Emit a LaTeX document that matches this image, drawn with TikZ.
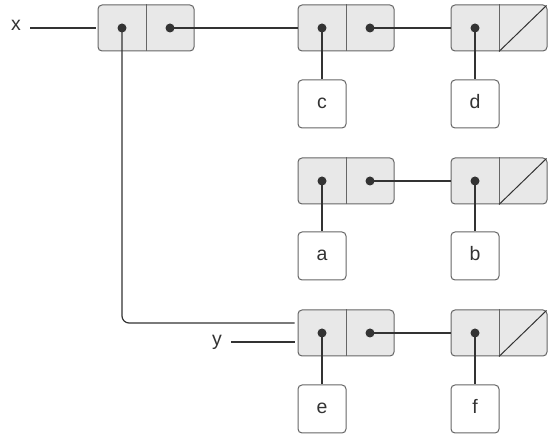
\documentclass[tikz,border=0pt]{standalone}
\usepackage{fontspec}
\setmainfont{Liberation Sans}
\usetikzlibrary{calc}
\definecolor{cellgray}{HTML}{E8E8E8}
\definecolor{boxline}{HTML}{666666}
\definecolor{ink}{HTML}{333333}
\begin{document}
\begin{tikzpicture}[x=1pt,y=-1pt,
  pairbox/.style={draw=boxline, fill=cellgray, rounded corners=4pt, minimum width=96pt, minimum height=46pt, inner sep=0pt, line width=1pt},
  atombox/.style={draw=boxline, fill=white, rounded corners=4pt, minimum width=48pt, minimum height=48pt, inner sep=0pt, line width=1pt, text=ink, font=\fontsize{19.5}{19.5}\selectfont, text height=10pt, text depth=0pt},
  ptr/.style={circle, fill=ink, minimum size=9pt, inner sep=0pt},
  link/.style={draw=ink, line width=1.2pt},
  lbl/.style={text=ink, font=\fontsize{19.5}{19.5}\selectfont, inner sep=0pt, anchor=base}]
\useasboundingbox (0,0) rectangle (558,438);
% pairs
\node[pairbox] (p1) at (146,28) {};
\node[pairbox] (p2) at (346,28) {};
\node[pairbox] (p3) at (499,28) {};
\node[pairbox] (q1) at (346,181) {};
\node[pairbox] (q2) at (499,181) {};
\node[pairbox] (r1) at (346,333) {};
\node[pairbox] (r2) at (499,333) {};
\foreach \p in {p1,p2,p3,q1,q2,r1,r2} {\draw[boxline, line width=1pt] (\p.north) -- (\p.south);}
\foreach \p in {p3,q2,r2} {\draw[ink, line width=1pt] (\p.south) -- ([xshift=-1pt,yshift=-1pt]\p.north east);}
% atoms
\node[atombox] (c) at (322,104) {c};
\node[atombox] (d) at (475,104) {d};
\node[atombox] (a) at (322,256) {a};
\node[atombox] (b) at (475,256) {b};
\node[atombox] (e) at (322,409) {e};
\node[atombox] (f) at (475,409) {f};
% labels
\node[lbl] (xl) at (16,31) {x};
\node[lbl] (yl) at (217,346) {y};
% dots
\foreach \p in {p1,p2,p3,q1,q2,r1,r2} {\node[ptr] (\p car) at ($(\p.center)+(-24,0)$) {};}
\foreach \p in {p1,p2,q1,r1} {\node[ptr] (\p cdr) at ($(\p.center)+(24,0)$) {};}
% connectors
\draw[link] ([xshift=9pt]xl.east |- p1.west) -- ([xshift=-2pt]p1.west);
\draw[link] (p1cdr.center) -- (p2.west);
\draw[link] (p2cdr.center) -- (p3.west);
\draw[link] (q1cdr.center) -- (q2.west);
\draw[link] (r1cdr.center) -- (r2.west);
\draw[link] (p2car.center) -- (c.north);
\draw[link] (p3car.center) -- (d.north);
\draw[link] (q1car.center) -- (a.north);
\draw[link] (q2car.center) -- (b.north);
\draw[link] (r1car.center) -- (e.north);
\draw[link] (r2car.center) -- (f.north);
\draw[link, rounded corners=7pt] (p1car.center) |- ([xshift=-3pt,yshift=10pt]r1.west);
\draw[link] ([xshift=9pt,yshift=-9pt]yl.east |- r1.west) -- ([xshift=-3pt,yshift=-9pt]r1.west);
\end{tikzpicture}
\end{document}
